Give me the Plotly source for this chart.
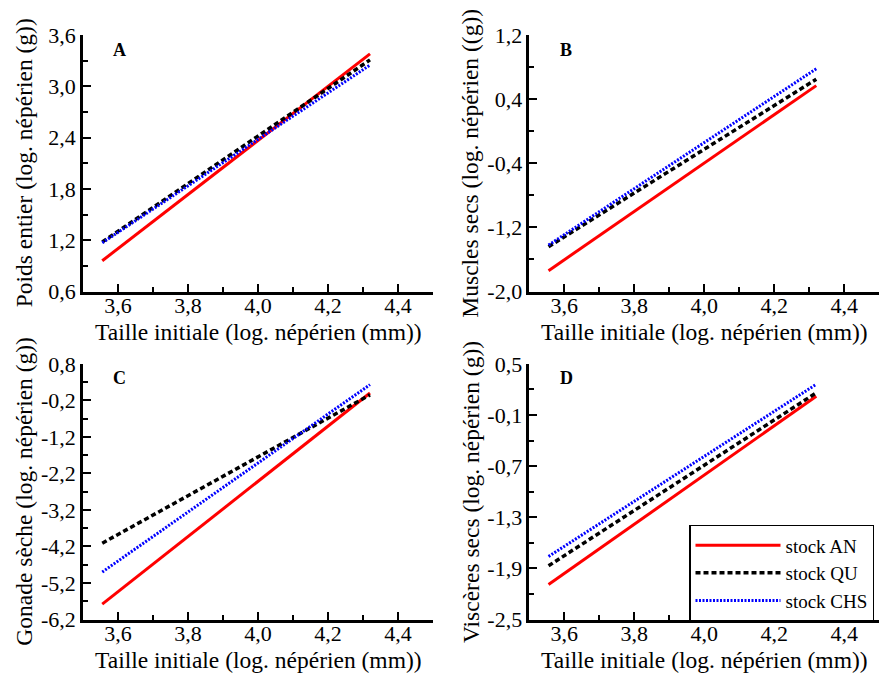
import plotly.graph_objects as go

# ---- data ----
taille = [3.555, 4.32]          # Taille initiale (log. népérien (mm)) — line endpoints
stocks = ["stock AN", "stock QU", "stock CHS"]

poids_AN = [0.96, 3.38]
poids_QU = [1.18, 3.31]
poids_CHS = [1.17, 3.25]

muscles_AN = [-1.74, 0.57]
muscles_QU = [-1.44, 0.65]
muscles_CHS = [-1.42, 0.78]

gonade_AN = [-5.78, 0.00]
gonade_QU = [-4.11, -0.05]
gonade_CHS = [-4.90, 0.23]

visceres_AN = [-2.09, 0.12]
visceres_QU = [-1.87, 0.16]
visceres_CHS = [-1.76, 0.26]

x_ticks = [3.6, 3.8, 4.0, 4.2, 4.4]
x_ticklabels = ["3,6", "3,8", "4,0", "4,2", "4,4"]

yA_ticks = [0.6, 1.2, 1.8, 2.4, 3.0, 3.6]
yA_labels = ["0,6", "1,2", "1,8", "2,4", "3,0", "3,6"]
yB_ticks = [-2.0, -1.2, -0.4, 0.4, 1.2]
yB_labels = ["-2,0", "-1,2", "-0,4", "0,4", "1,2"]
yC_ticks = [-6.2, -5.2, -4.2, -3.2, -2.2, -1.2, -0.2, 0.8]
yC_labels = ["-6,2", "-5,2", "-4,2", "-3,2", "-2,2", "-1,2", "-0,2", "0,8"]
yD_ticks = [-2.5, -1.9, -1.3, -0.7, -0.1, 0.5]
yD_labels = ["-2,5", "-1,9", "-1,3", "-0,7", "-0,1", "0,5"]

panels = [
    ("A", "Poids entier (log. népérien (g))", [poids_AN, poids_QU, poids_CHS], yA_ticks, yA_labels, 0.3),
    ("B", "Muscles secs (log. népérien ((g))", [muscles_AN, muscles_QU, muscles_CHS], yB_ticks, yB_labels, 0.4),
    ("C", "Gonade sèche (log. népérien (g))", [gonade_AN, gonade_QU, gonade_CHS], yC_ticks, yC_labels, 0.5),
    ("D", "Viscères secs (log. népérien (g))", [visceres_AN, visceres_QU, visceres_CHS], yD_ticks, yD_labels, 0.3),
]

# ---- layout geometry (pixels) ----
W, H = 880, 692
col_x = [83, 529.3]
row_y = [(24, 290), (365, 630.3)]
plot_w = 350

styles = [
    dict(color="#ff0000", width=3, dash="solid"),
    dict(color="#000000", width=3.5, dash="5px,3px"),
    dict(color="#0000ff", width=3, dash="2px,1.5px"),
]

FONT = "Liberation Serif"

fig = go.Figure()
annotations = []
layout_axes = {}

for i, (letter, ytitle, series, yt, yl, yminor) in enumerate(panels):
    r, c = divmod(i, 2)
    x0 = col_x[c]
    top, bot = row_y[r]
    xdom = [x0 / W, (x0 + plot_w) / W]
    ydom = [(H - bot) / H, (H - top) / H]
    n = "" if i == 0 else str(i + 1)
    xa, ya = "xaxis" + n, "yaxis" + n
    for k, (name, vals) in enumerate(zip(stocks, series)):
        fig.add_trace(go.Scatter(
            x=taille, y=vals, mode="lines", name=name,
            line=styles[k], xaxis="x" + n, yaxis="y" + n,
            showlegend=(i == 3),
        ))
    layout_axes[xa] = dict(
        domain=xdom, anchor="y" + n, range=[3.5, 4.5],
        tickvals=x_ticks, ticktext=x_ticklabels,
        ticks="inside", ticklen=8, tickwidth=1.5, tickcolor="black",
        minor=dict(ticks="inside", ticklen=5, tickwidth=1.5, tickcolor="black", tick0=3.5, dtick=0.1),
        showline=True, linecolor="black", linewidth=2.5,
        showgrid=False, zeroline=False,
        tickfont=dict(family=FONT, size=22, color="black"),
        ticklabelstandoff=-8,
    )
    layout_axes[ya] = dict(
        domain=ydom, anchor="x" + n, range=[yt[0], yt[-1]],
        tickvals=yt, ticktext=yl,
        ticks="inside", ticklen=8, tickwidth=1.5, tickcolor="black",
        minor=dict(ticks="inside", ticklen=5, tickwidth=1.5, tickcolor="black", tick0=yt[0], dtick=yminor),
        showline=True, linecolor="black", linewidth=2.5,
        showgrid=False, zeroline=False,
        tickfont=dict(family=FONT, size=22, color="black"),
        ticklabelstandoff=0,
    )
    # panel letter
    annotations.append(dict(
        text="<b>%s</b>" % letter, x=(x0 + 37) / W, y=(H - (top + 15)) / H,
        xref="paper", yref="paper", showarrow=False, xanchor="center", yanchor="middle",
        font=dict(family=FONT, size=18, color="black"),
    ))
    # x title
    annotations.append(dict(
        text="Taille initiale (log. népérien (mm))",
        x=(x0 + plot_w / 2) / W, y=(H - (bot + 42)) / H,
        xref="paper", yref="paper", showarrow=False, xanchor="center", yanchor="middle",
        font=dict(family=FONT, size=23.5, color="black"),
    ))
    # y title
    annotations.append(dict(
        text=ytitle, textangle=-90,
        x=(x0 - 59) / W, y=(H - (top + bot) / 2) / H,
        xref="paper", yref="paper", showarrow=False, xanchor="center", yanchor="middle",
        font=dict(family=FONT, size=23.5, color="black"),
    ))

fig.update_layout(
    width=W, height=H,
    margin=dict(l=0, r=0, t=0, b=0),
    paper_bgcolor="white", plot_bgcolor="white",
    font=dict(family=FONT, color="black"),
    separators=", ",
    annotations=annotations,
    legend=dict(
        x=689 / W, y=(H - 532) / H, xanchor="left", yanchor="top",
        bordercolor="black", borderwidth=1.5, bgcolor="white",
        font=dict(family=FONT, size=19, color="black"),
        itemwidth=85,
    ),
    **layout_axes,
)

fig.write_html("out.html")
